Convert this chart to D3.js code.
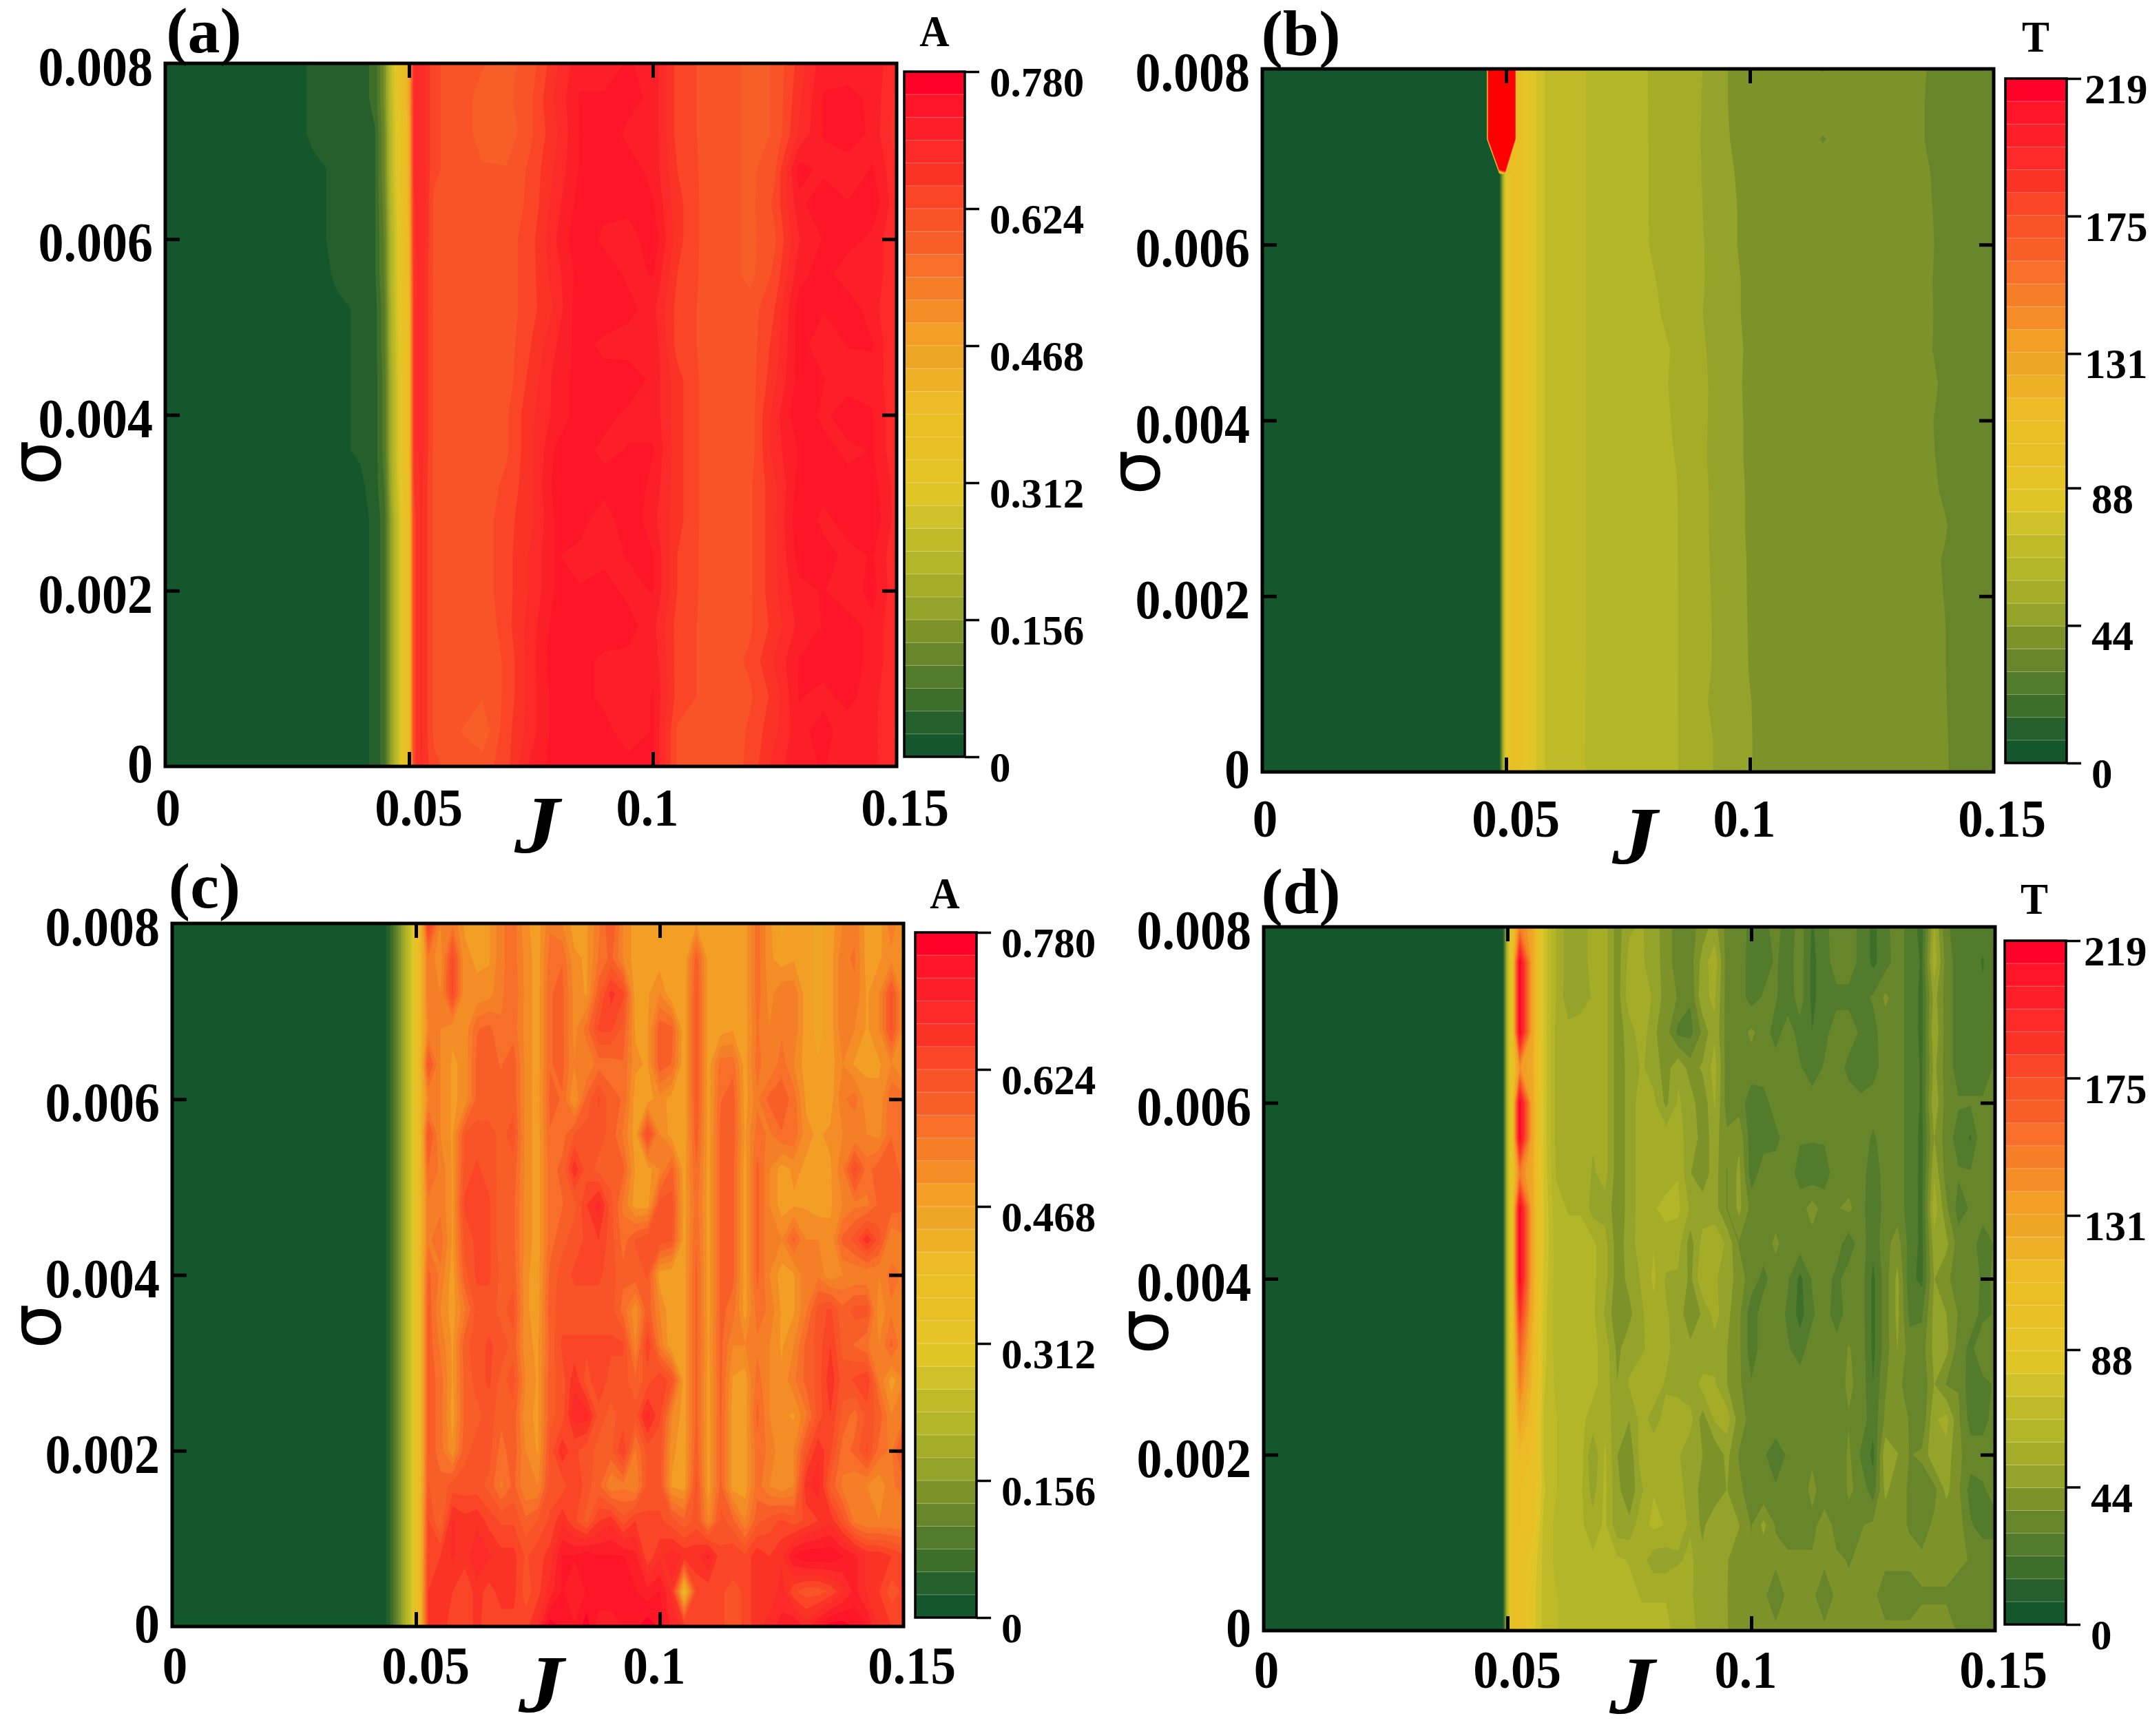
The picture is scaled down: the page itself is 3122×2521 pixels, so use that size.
<!DOCTYPE html>
<html>
<head>
<meta charset="utf-8">
<script src="https://cdn.jsdelivr.net/npm/d3@7"></script>
<style>
html,body{margin:0;padding:0;background:#fff}
svg{display:block}
text{font-family:"Liberation Serif",serif;font-weight:bold;fill:#000}
</style>
</head>
<body>
<svg id="fig" width="3122" height="2521"></svg>
<script>
// Tick labels and colour bands shared by the four contour panels.
const jTicks = [0, 0.05, 0.1, 0.15];
const sigmaTicks = [0, 0.002, 0.004, 0.006, 0.008];
const aTicks = [0, 0.156, 0.312, 0.468, 0.624, 0.78];
const tTicks = [0, 44, 88, 131, 175, 219];
const bandColors = ["#14572d","#245f2c","#3d6f2b","#527b2b","#67862b","#7e922a","#94a329","#a5ad28","#b3b628","#bfbb28",
  "#cec129","#dfc526","#e6c427","#e7c025","#e9bf24","#edbb25","#eeb027","#eea627","#f39f26","#f48d25",
  "#f57f26","#f76f28","#f85f28","#f95428","#fb4527","#fb3327","#fc2a28","#fc1f28","#fe1528","#ff0028"];
const overflowColor = "#ff0000";

// Noise strength, top row first.
const sigmaRows = [0.008,0.0076,0.0072,0.0068,0.0064,0.006,0.0056,0.0052,0.0048,0.0044,0.004,0.0036,0.0032,0.0028,0.0024,0.002,0.0016,0.0012,0.0008,0.0004,0];

// Coupling strength samples for each panel.
const jA = [0,0.025,0.03,0.035,0.04,0.043,0.045,0.0465,0.048,0.049,0.05,0.051,0.0525,0.055,0.06,0.065,0.07,0.075,0.08,0.085,0.09,0.095,0.1,0.105,0.11,0.115,0.12,0.125,0.13,0.135,0.14,0.145,0.15];
const jB = [0,0.046,0.0486,0.0498,0.052,0.054,0.058,0.063,0.0665,0.07,0.075,0.08,0.085,0.09,0.095,0.1,0.105,0.11,0.115,0.12,0.125,0.13,0.135,0.14,0.145,0.15];
const jCD = [0,0.043,0.045,0.047,0.049,0.05,0.051,0.0525,0.055,0.0575,0.06,0.0625,0.065,0.0675,0.07,0.0725,0.075,0.0775,0.08,0.0825,0.085,0.0875,0.09,0.0925,0.095,0.0975,0.1,0.1025,0.105,0.1075,0.11,0.1125,0.115,0.1175,0.12,0.1225,0.125,0.1275,0.13,0.1325,0.135,0.1375,0.14,0.1425,0.145,0.1475,0.15];

// Panel (a): amplitude A in hundredths.
const gridA = [
[0,1,3,3,4,6,14,27,34,38,46,68,70, 63,61,60,59,61,67,72,72,73,72,64,62,61,59,60,66,72,71,72,68],
[0,1,3,3,4,6,14,26,34,38,46,68,70, 63,61,59,59,62,68,73,73,74,72,64,62,61,59,60,67,73,74,72,67],
[0,1,3,3,4,5,13,25,33,37,44,68,70, 63,61,59,58,62,67,73,75,72,72,64,62,61,59,60,68,73,75,72,66],
[0,1,2,3,4,5,13,25,33,37,44,68,70, 63,61,60,60,63,68,73,75,74,72,65,62,61,59,62,74,72,71,73,68],
[0,0,2,3,4,5,12,24,32,37,44,67,70, 62,61,61,61,63,69,74,74,74,73,66,62,61,59,63,72,75,73,75,68],
[0,0,2,3,4,5,11,23,31,36,42,67,70, 62,61,61,61,64,70,75,72,71,75,66,62,61,59,62,70,73,74,72,68],
[0,0,1,3,3,5,11,23,31,36,42,66,69, 62,61,61,61,64,69,74,75,72,73,65,62,61,59,63,72,74,71,72,68],
[0,0,1,2,3,4,10,22,31,36,40,66,69, 62,61,61,61,64,68,75,75,74,71,64,62,61,61,65,74,73,75,71,68],
[0,0,1,2,3,4,10,22,30,35,40,66,69, 62,61,61,61,65,70,74,72,71,72,64,62,61,61,66,74,71,73,73,67],
[0,0,0,2,3,4,9,21,30,35,40,66,69, 62,61,61,61,66,71,74,74,75,72,66,62,61,61,67,74,73,71,72,68],
[0,0,0,2,3,4,9,21,30,35,40,66,69, 62,61,61,62,67,71,74,74,72,72,66,62,61,61,69,75,72,75,73,68],
[0,0,0,2,3,4,9,21,30,35,40,66,69, 62,61,61,62,67,73,74,72,73,73,66,62,61,61,69,73,74,72,73,68],
[0,0,0,2,2,4,8,20,29,35,39,65,68, 62,61,61,63,67,74,73,74,75,72,66,62,61,62,67,74,74,74,74,69],
[0,0,0,1,2,3,7,18,28,34,38,64,68, 62,61,61,64,67,73,74,71,75,71,66,62,61,62,67,75,72,74,75,69],
[0,0,0,1,2,3,7,18,28,34,38,64,68, 62,61,61,64,68,73,72,72,73,73,65,62,61,62,67,74,74,72,73,68],
[0,0,0,1,2,3,7,18,28,34,38,64,68, 62,61,61,64,68,73,73,74,72,73,65,62,61,62,67,72,73,71,74,68],
[0,0,0,1,2,3,7,18,28,34,38,64,68, 62,61,60,64,69,74,74,75,74,71,64,62,61,62,66,71,73,74,72,68],
[0,0,0,1,2,3,7,18,28,34,38,64,68, 62,60,60,63,69,75,74,72,72,72,64,62,61,63,68,73,74,74,72,68],
[0,0,0,1,2,3,7,18,28,34,38,64,68, 62,60,60,63,69,74,74,72,71,73,64,62,61,62,66,73,72,74,71,68],
[0,0,0,1,2,3,7,18,28,34,38,64,68, 62,60,58,64,69,74,75,74,71,73,62,60,60,63,67,72,74,71,71,67],
[0,0,0,1,2,3,7,18,28,34,38,64,68, 63,61,61,64,71,74,74,75,74,73,62,62,61,63,69,72,73,71,71,68]
];

// Panel (b): period T. The runaway samples at the top of the transition lie far above the colour scale.
const gridB = [
[0,0,1500,1500,105,89,73,70,65.6,64,61,57.8,55,51.5,44,42,41,40,36,40,40,39,37,35,34,33],
[0,0,1500,1500,105,89,73,70,65.6,64,61,57.8,55,51.2,44,42,41,40.5,40.5,40,40,39,36.8,35,34,33],
[0,0,1500,1500,105,89,73,70,65.6,64,61,57.9,55,51,44.2,42,41,40,36,40,40,39,36.8,35,34,33],
[0,0,4,80,105,89,73,70,65.6,64,61,57.9,55,51.2,44.6,42.5,41,41,40,40,40,39,37.2,35.5,34,33],
[0,0,4,80,105,89,73,70,65.6,64,61,57.9,55,51.5,45,42.5,41,41,40,40,40,39,37.5,35.5,34,33],
[0,0,4,80,105,89,73,70,65.6,64,61,58,55,52,45,42.5,41,41,40,40,40,39,37.8,35.5,34,33],
[0,0,4,80,105,89,73,70,65.6,64,61.5,58.8,56,52,46,42.5,41,41,40,40,40,39,37.8,35.2,34,33],
[0,0,4,80,105,89,73,70,65.6,64,61.5,59.4,56.5,51.5,46,42.5,41,41,40,40,40,39,37.6,35.5,34,33],
[0,0,4,80,105,89,73,70,65.6,64,62,60,57.8,52.5,46,43,41,41,40,40,40,39,37.8,35.2,34,33],
[0,0,4,80,105,89,73,70,65.6,64,62,60,57.5,53,46.5,42.5,41,41,40,40,40,39,37.8,36,34,33],
[0,0,4,80,105,89,73,70,65.6,64,62,60,57.9,53,46,43,41,41,40,40,40,39,37.5,35.6,34,33],
[0,0,4,80,105,89,73,70,65.6,64,62,60,58.2,52.5,46.5,42.8,41,41,40,40,40,39,38,35.5,34,33],
[0,0,4,80,105,89,73,70,65.6,64,62,60,58.6,53,47,43,41,41,40,40,40,39,38,36,34,33],
[0,0,4,80,105,89,73,70,65.6,64,62,60,58.7,53,47,43,41,41,40,40,40,39,38,36.8,34,33],
[0,0,4,80,105,89,73,70,65.6,64,62,60,58.7,53,47.5,43.2,41,41,40,40,40,39,38,36.2,34,33],
[0,0,4,80,105,89,73,70,65.6,64,62,60,58.7,53.5,47.5,43.3,41,41,40,40,40,39,38,36.4,34,33],
[0,0,4,80,105,89,73,70,65.6,64,62,60,58.7,54,47.5,43.4,41,41,40,40,40,39,38,36.6,34,33],
[0,0,4,80,105,89,73,70,65.5,64,62,60,58.7,53.5,48,43.5,41,41,40,40,40,39,38,36.6,34,33],
[0,0,4,80,105,89,73,70,65.4,64,62,60,58.7,53,46,44,41,41,40,40,40,39,38,36.7,34,33],
[0,0,4,80,105,89,73,70,65.4,64,62,60,58.7,54,48,44,42,41,41,41,40,39,38,36.8,34.5,33],
[0,0,4,80,105,89,73,70,65.3,64,62,60,58.7,54,48,44,42,41,41,41,40,39,38,36.8,35,33]
];

// Panels (c) and (d): readings from J = 0.0525 onward; the columns below that are constant across sigma.
const edgeC = [0,0,6,16,27,36,42];
const edgeD = [0,0,0,0,2,65,100];

const gridC = [
[66,52,54,49,49,49,54,56,50,48, 54,52,48,49,54,60,52,48,48,48, 47,47,49,48,47,47,48,56,50,46, 48,48,46,48,52,54,48,48,54,49],
[54,50,63,50,49,49,54,56,51,48, 56,57,50,49,55,58,52,48,48,48, 47,47,59,48,47,47,48,56,50,48, 49,48,46,48,54,55,48,49,51,49],
[54,52,63,50,50,51,54,57,51,48, 57,58,51,49,59,66,63,48,49,52, 47,47,60,48,47,47,48,56,51,54, 54,48,46,48,54,54,49,52,61,51],
[52,52,50,50,57,58,55,56,51,48, 57,58,51,56,63,63,59,49,49,59, 58,47,60,48,48,49,48,55,52,54, 54,48,46,48,54,52,49,52,61,51],
[61,52,49,50,58,58,57,59,51,48, 57,58,52,52,56,56,57,50,49,59, 57,47,60,48,56,56,48,56,52,56, 52,48,47,48,52,49,49,49,52,49],
[52,52,49,50,58,58,58,59,51,48, 58,57,49,58,63,58,57,48,48,51, 48,47,60,48,57,59,48,54,58,59, 56,49,48,48,54,56,50,50,57,56],
[61,52,49,60,61,61,59,61,51,48, 57,56,60,61,61,59,54,48,63,52, 48,47,59,48,58,59,49,56,54,57, 57,50,49,50,52,52,52,51,57,54],
[57,54,49,61,63,61,59,59,51,48, 56,58,67,61,59,58,58,49,48,52, 58,48,57,48,58,58,48,58,52,48, 50,49,48,49,54,63,56,59,59,56],
[54,54,49,63,63,63,58,58,51,48, 56,57,59,65,69,61,54,48,48,61, 61,48,56,48,58,58,48,58,52,48, 49,49,48,49,52,54,54,58,59,58],
[54,56,49,61,63,63,58,58,51,48, 56,59,61,63,65,61,56,60,62,62, 60,48,57,48,58,58,48,58,52,52, 58,52,52,50,58,61,67,61,52,54],
[58,54,48,59,63,63,59,59,50,48, 58,61,63,63,63,61,58,59,60,48, 47,48,58,48,58,58,48,58,52,48, 49,54,54,50,52,52,52,52,56,54],
[59,52,48,54,61,61,59,61,50,48, 59,61,61,61,61,61,56,50,59,52, 47,48,58,48,58,56,48,56,54,49, 49,54,61,63,58,61,61,50,54,52],
[59,54,49,59,61,63,61,59,50,49, 58,63,63,63,63,63,63,52,65,54, 47,48,58,49,58,52,52,54,52,49, 52,58,61,65,59,57,55,52,58,52],
[59,56,49,58,61,63,59,61,52,49, 59,61,67,61,65,61,61,58,61,65, 61,48,58,48,58,49,48,56,52,50, 54,58,61,67,61,63,65,54,48,52],
[59,56,48,58,59,61,58,59,50,49, 59,61,69,69,61,59,61,61,69,63, 52,48,58,48,58,48,48,58,52,50, 49,54,61,65,59,56,61,59,52,54],
[59,56,50,59,61,61,56,59,52,49, 61,67,63,61,59,59,65,54,61,61, 50,48,59,48,58,48,48,56,54,50, 52,61,67,63,56,58,63,56,54,63],
[60,58,61,61,61,59,54,58,52,52, 61,61,65,61,58,52,54,52,61,61, 49,48,61,48,58,48,48,56,52,50, 52,67,69,59,54,52,52,50,54,56],
[63,57,68,66,67,64,62,62,58,60, 63,67,63,59,65,67,61,65,63,63, 61,58,61,52,61,58,52,59,61,63, 61,63,65,67,61,54,52,52,52,52],
[64,65,68,66,70,68,66,66,62,64, 66,73,73,75,73,73,73,71,63,67, 69,67,67,71,63,65,63,67,65,67, 73,75,75,75,73,71,67,67,65,63],
[65,67,65,63,66,64,66,66,61,64, 69,73,71,73,75,75,75,73,71,73, 67,40,63,63,63,61,63,67,65,69, 63,61,61,63,67,71,67,65,61,63],
[65,67,63,63,66,63,64,64,64,68, 77,75,73,77,71,71,73,75,77,75, 69,67,65,63,63,61,63,67,69,71, 73,69,73,77,77,75,73,67,65,65]
];

const gridD = [
[150,130,78,58,47,47,54,54,40,50, 52,47,40,33,33,40,47,33,33,27, 26,33,24,33,21,27,33,33,27,20, 27,33,26,19,52,30,27,27,26,30],
[218,130,78,58,47,47,54,54,40,54, 52,48,40,33,33,47,56,33,33,26, 26,30,26,33,20,26,33,33,27,20, 26,33,26,21,56,33,26,26,21,30],
[218,130,78,58,46,47,52,54,40,56, 56,50,40,36,30,50,52,33,33,26, 30,30,25,33,20,26,27,27,27,30, 38,33,26,20,47,33,26,26,24,30],
[218,130,78,56,54,56,54,54,40,47, 56,45,40,27,27,38,50,33,33,38, 33,26,33,26,22,27,33,33,28,27, 33,33,26,20,50,33,26,26,26,30],
[140,125,78,56,54,56,54,54,40,46, 52,48,40,50,40,45,54,33,33,33, 33,33,33,30,25,30,33,27,27,26, 33,33,26,21,46,33,26,26,26,30],
[218,130,78,56,54,56,54,54,40,46, 56,53,42,52,48,38,52,33,33,25, 26,33,33,33,33,33,33,33,30,33, 33,33,26,21,50,33,30,30,30,33],
[218,130,78,56,58,56,52,54,40,46, 56,56,56,52,50,40,47,38,42,25, 26,27,33,30,30,30,33,33,33,28, 33,33,26,20,44,33,26,21,36,33],
[150,125,78,58,58,58,50,54,40,46, 56,56,56,58,44,40,47,36,46,25, 33,33,33,26,24,26,33,33,33,24, 33,33,26,20,50,33,30,30,36,33],
[218,130,80,60,58,58,48,48,40,46, 56,58,60,60,50,47,47,36,46,34, 33,33,33,33,40,33,36,38,33,22, 33,33,26,20,56,38,26,30,33,30],
[218,130,80,62,60,60,60,54,40,47, 56,58,56,54,40,54,56,50,36,33, 33,38,33,33,33,33,33,25,33,24, 34,40,26,20,48,46,33,33,25,30],
[218,130,78,62,62,62,60,54,40,46, 52,60,50,50,42,58,52,48,40,33, 27,33,30,20,30,33,27,33,33,20, 33,46,24,20,44,38,33,33,28,30],
[190,125,76,62,62,62,60,50,38,42, 50,56,52,48,38,45,54,46,38,25, 33,33,28,19,28,33,25,33,33,20, 33,46,27,28,46,44,36,33,27,30],
[165,120,76,62,62,62,60,56,42,48, 50,54,54,46,46,44,48,44,38,25, 33,33,30,26,33,33,33,37,34,20, 33,44,33,33,46,46,33,27,36,30],
[150,115,74,64,62,62,60,56,44,52, 56,56,50,48,46,54,52,44,38,30, 33,33,33,33,33,33,33,38,34,22, 36,40,30,30,44,36,36,24,27,30],
[130,110,72,66,62,60,56,56,46,44, 54,48,54,56,54,40,52,55,40,34, 33,33,33,33,33,33,33,36,34,24, 38,40,36,30,50,54,38,26,26,33],
[115,108,72,66,62,62,44,60,44,38, 56,56,56,52,46,44,38,46,36,30, 30,26,30,30,34,30,30,38,28,20, 50,44,36,38,50,48,38,33,33,36],
[110,105,74,66,62,60,48,60,46,38, 50,58,54,52,50,40,38,44,38,33, 30,30,30,30,40,30,30,38,34,25, 46,38,36,32,34,46,38,26,28,33],
[110,100,70,64,62,60,54,60,46,46, 56,60,58,54,50,42,50,47,44,36, 46,36,33,33,33,42,33,33,36,38, 38,38,36,33,38,38,40,30,26,26],
[105,88,70,64,62,62,60,60,60,58, 54,47,47,50,53,46,44,44,42,38, 38,38,38,38,38,38,38,36,38,38, 38,38,38,38,38,38,38,36,34,34],
[105,85,70,66,64,62,60,60,60,60, 58,58,58,58,52,48,48,44,40,38, 38,32,38,38,38,32,38,38,38,38, 33,33,33,36,36,36,33,33,33,33],
[105,85,70,66,64,62,62,60,60,60, 60,60,60,56,52,50,48,44,42,38, 38,38,38,38,38,38,38,38,38,38, 38,38,38,38,38,38,36,33,33,33]
];

const svg = d3.select("#fig");
const bands = bandColors.length;

// Draws a string whose digits are taller than the font's natural proportion.
function label(g, str, x, yMid, size, sy, anchor) {
  return g.append("text")
    .attr("transform", `translate(${x},${yMid + 0.338 * size * sy}) scale(1,${sy})`)
    .attr("text-anchor", anchor || "middle")
    .style("font-size", size + "px")
    .text(str);
}

function drawPanel(p) {
  const g = svg.append("g");
  const x = d3.scaleLinear().domain([0, 0.15]).range([p.left, p.right]);
  const y = d3.scaleLinear().domain([0, 0.008]).range([p.bottom, p.top]);

  // Contour rings come back in grid units: map them through the sample positions.
  const nx = p.j.length, ny = sigmaRows.length;
  const colAt = d3.scaleLinear().domain(d3.range(nx)).range(p.j);
  const rowAt = d3.scaleLinear().domain(d3.range(ny)).range(sigmaRows);
  const clamp = (v, n) => Math.max(0, Math.min(n - 1, v - 0.5));
  const path = d3.geoPath(d3.geoTransform({
    point(gx, gy) { this.stream.point(x(colAt(clamp(gx, nx))), y(rowAt(clamp(gy, ny)))); }
  }));

  const flat = p.rows.flat();
  const step = p.max / bands;
  const levels = d3.range(bands).map(k => k * step);
  const fills = bandColors.slice();
  levels.push(p.max * 1.002); fills.push(overflowColor);
  const contours = d3.contours().size([nx, ny]).thresholds(levels);

  g.append("g").selectAll("path")
    .data(contours(flat))
    .join("path")
    .attr("d", path)
    .attr("fill", (d, i) => fills[i])
    .attr("fill-rule", "evenodd");

  // Ticks point inward on all four sides of the frame.
  const tickLen = 21;
  const inner = [0.05, 0.1], innerY = [0.002, 0.004, 0.006];
  g.append("g").attr("transform", `translate(0,${p.bottom})`)
    .call(d3.axisBottom(x).tickValues(inner).tickSize(-tickLen).tickFormat(""))
    .call(a => a.select(".domain").remove());
  g.append("g").attr("transform", `translate(0,${p.top})`)
    .call(d3.axisTop(x).tickValues(inner).tickSize(-tickLen).tickFormat(""))
    .call(a => a.select(".domain").remove());
  g.append("g").attr("transform", `translate(${p.left},0)`)
    .call(d3.axisLeft(y).tickValues(innerY).tickSize(-tickLen).tickFormat(""))
    .call(a => a.select(".domain").remove());
  g.append("g").attr("transform", `translate(${p.right},0)`)
    .call(d3.axisRight(y).tickValues(innerY).tickSize(-tickLen).tickFormat(""))
    .call(a => a.select(".domain").remove());
  g.selectAll(".tick line").attr("stroke", "#000").attr("stroke-width", 5);

  g.append("rect")
    .attr("x", p.left).attr("y", p.top)
    .attr("width", p.right - p.left).attr("height", p.bottom - p.top)
    .attr("fill", "none").attr("stroke", "#000").attr("stroke-width", 5);

  // Axis numbers.
  const nudgeX = {0: 4, 0.05: 14, 0.1: -8, 0.15: 12};
  jTicks.forEach(v => label(g, String(v), x(v) + nudgeX[v], p.xLabelY, 73, 1.08));
  sigmaTicks.forEach(v => label(g, String(v), p.left - 18, y(v) + (v === 0 ? -4 : 5), 74, 1.08, "end"));

  label(g, "J", p.jX, p.jY, 132, 0.9).style("font-style", "italic");
  g.append("text")
    .attr("transform", `translate(${p.sX},${p.sY}) rotate(-90)`)
    .attr("text-anchor", "middle").attr("dominant-baseline", "central")
    .style("font-family", '"DejaVu Sans",sans-serif')
    .style("font-weight", "normal")
    .style("font-size", "104px")
    .text("σ");
  label(g, p.tag, p.tagX, p.tagY, 94, 1);

  // Colour bar with its bands, hairlines and right-hand ticks.
  const cb = d3.scaleLinear().domain([0, p.max]).range([p.barBottom, p.barTop]);
  const bar = g.append("g");
  bar.selectAll("rect").data(bandColors).join("rect")
    .attr("x", p.barLeft).attr("width", p.barRight - p.barLeft)
    .attr("y", (c, i) => cb((i + 1) * step))
    .attr("height", (c, i) => cb(i * step) - cb((i + 1) * step) + 0.5)
    .attr("fill", c => c);
  bar.selectAll("line.hair").data(d3.range(1, bands)).join("line")
    .attr("class", "hair")
    .attr("x1", p.barLeft).attr("x2", p.barRight)
    .attr("y1", k => cb(k * step)).attr("y2", k => cb(k * step))
    .attr("stroke", "#fff").attr("stroke-opacity", 0.3).attr("stroke-width", 1);
  bar.append("rect")
    .attr("x", p.barLeft).attr("y", p.barTop)
    .attr("width", p.barRight - p.barLeft).attr("height", p.barBottom - p.barTop)
    .attr("fill", "none").attr("stroke", "#000").attr("stroke-width", 3.5);
  g.append("g").attr("transform", `translate(${p.barRight},0)`)
    .call(d3.axisRight(cb).tickValues(p.ticks).tickSize(21).tickFormat(""))
    .call(a => a.select(".domain").remove())
    .selectAll(".tick line").attr("stroke", "#000").attr("stroke-width", 3.5);

  p.ticks.forEach(v => {
    const txt = p.fmt(v);
    const lx = p.barRight + (txt.length === 3 ? 26 : 36);
    label(g, txt, lx, cb(v) + 15, 61, 1.02, "start");
  });
  label(g, p.title, p.titleX, p.titleY, 60, 1.05);
}

const fmtA = v => v === 0 ? "0" : v.toFixed(3);
const fmtT = v => String(v);
const checkWidth = (rows, n, tag) => rows.forEach((r, i) => { if (r.length !== n) throw new Error(tag + " row " + i + " has " + r.length); });
checkWidth(gridA, jA.length, "a"); checkWidth(gridB, jB.length, "b");
checkWidth(gridC, 40, "c"); checkWidth(gridD, 40, "d");

drawPanel({tag:"(a)", tagX:296, tagY:44, title:"A", titleX:1357, titleY:46,
  left:240, right:1302, top:92, bottom:1113, j:jA, rows:gridA.map(r=>r.map(v=>v/100)), max:0.78,
  barLeft:1313, barRight:1401, barTop:104, barBottom:1099, ticks:aTicks, fmt:fmtA,
  xLabelY:1172, jX:780, jY:1198, sX:52, sY:672});
drawPanel({tag:"(b)", tagX:1889, tagY:48, title:"T", titleX:2956, titleY:54,
  left:1833, right:2895, top:100, bottom:1121, j:jB, rows:gridB, max:219,
  barLeft:2912, barRight:3001, barTop:114, barBottom:1108, ticks:tTicks, fmt:fmtT,
  xLabelY:1188, jX:2374, jY:1214, sX:1648, sY:686});
drawPanel({tag:"(c)", tagX:297, tagY:1286, title:"A", titleX:1372, titleY:1298,
  left:250, right:1312, top:1341, bottom:2362, j:jCD, rows:gridC.map(r=>[...edgeC, ...r].map(v=>v/100)), max:0.78,
  barLeft:1329, barRight:1418, barTop:1354, barBottom:2349, ticks:aTicks, fmt:fmtA,
  xLabelY:2418, jX:786, jY:2446, sX:52, sY:1926});
drawPanel({tag:"(d)", tagX:1889, tagY:1294, title:"T", titleX:2954, titleY:1306,
  left:1835, right:2897, top:1346, bottom:2368, j:jCD, rows:gridD.map(r=>[...edgeD, ...r]), max:219,
  barLeft:2911, barRight:3000, barTop:1366, barBottom:2359, ticks:tTicks, fmt:fmtT,
  xLabelY:2424, jX:2370, jY:2448, sX:1660, sY:1934});
</script>
</body>
</html>
